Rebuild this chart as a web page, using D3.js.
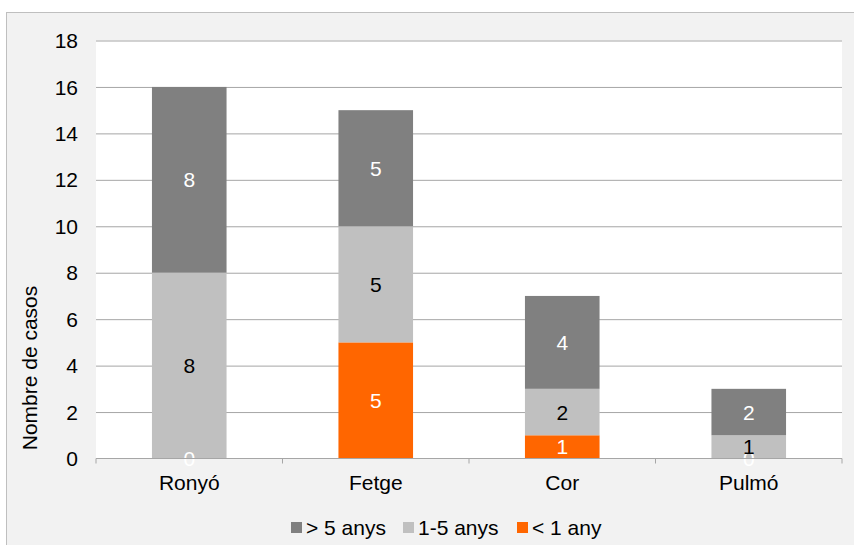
<!DOCTYPE html>
<head>
<meta charset="utf-8">
<script src="https://d3js.org/d3.v7.min.js"></script>
<style>
body { margin: 0; background: #fff; }
svg { display: block; font-family: "Liberation Sans", Arial, sans-serif; }
.grid line { stroke: #a6a6a6; stroke-width: 1; }
.grid path { display: none; }
</style>
</head>
<body>
<div id="chart"></div>
<script>
// Data
let categories = ["Ronyó", "Fetge", "Cor", "Pulmó"];
let series = ["< 1 any", "1-5 anys", "> 5 anys"];
let lessThan1 = [0, 5, 1, 0];
let oneToFive = [8, 5, 2, 1];
let moreThan5 = [8, 5, 4, 2];
let yTicks = [0, 2, 4, 6, 8, 10, 12, 14, 16, 18];
let legendOrder = ["> 5 anys", "1-5 anys", "< 1 any"];

let colors = {"< 1 any": "#ff6600", "1-5 anys": "#c0c0c0", "> 5 anys": "#808080"};
let labelColors = {"< 1 any": "#fff", "1-5 anys": "#000", "> 5 anys": "#fff"};

let W = 854, H = 545, fs = 21;
let margin = {top: 40.5, right: 12, bottom: 86.5, left: 96},
    width = W - margin.left - margin.right,
    height = H - margin.top - margin.bottom;

let svg = d3.select("#chart").append("svg")
    .attr("width", W)
    .attr("height", H);

// outer chart area
svg.append("rect")
    .attr("x", 6.5).attr("y", 12.5)
    .attr("width", 860).attr("height", 560)
    .attr("fill", "#f2f2f2")
    .attr("stroke", "#bfbfbf");

let g = svg.append("g")
    .attr("transform", "translate(" + margin.left + "," + margin.top + ")");

g.append("rect")
    .attr("width", width).attr("height", height)
    .attr("fill", "#fff");

let data = categories.map(function(c, i) {
  return {cat: c, "< 1 any": lessThan1[i], "1-5 anys": oneToFive[i], "> 5 anys": moreThan5[i]};
});

let x = d3.scaleBand().domain(categories).range([0, width]).paddingInner(0.6).paddingOuter(0.3);
let xb = d3.scaleBand().domain(categories).range([0, width]);
let y = d3.scaleLinear().domain([0, 18]).range([height, 0]);

// grid
g.append("g")
    .attr("class", "grid")
    .call(d3.axisLeft(y).tickValues(yTicks.slice(1)).tickSize(-width).tickFormat(""));

// y labels
g.append("g")
  .selectAll("text")
  .data(yTicks)
  .enter().append("text")
    .attr("x", -18)
    .attr("y", function(d) { return y(d); })
    .attr("dy", "0.36em")
    .attr("text-anchor", "end")
    .attr("font-size", fs)
    .text(function(d) { return d; });

let stack = d3.stack().keys(series)(data);

let layer = g.selectAll("g.layer")
  .data(stack)
  .enter().append("g")
    .attr("class", "layer")
    .attr("fill", function(d) { return colors[d.key]; });

layer.selectAll("rect")
  .data(function(d) { return d; })
  .enter().append("rect")
    .attr("x", function(d) { return x(d.data.cat); })
    .attr("y", function(d) { return y(d[1]); })
    .attr("width", x.bandwidth())
    .attr("height", function(d) { return y(d[0]) - y(d[1]); });

// value labels (zero labels only shown where the chart shows them)
stack.forEach(function(s) {
  g.append("g").selectAll("text")
    .data(s.filter(function(d) { return d.data.cat !== "Fetge" && d.data.cat !== "Cor" || d[1] - d[0] > 0; }))
    .enter().append("text")
      .attr("x", function(d) { return x(d.data.cat) + x.bandwidth() / 2; })
      .attr("y", function(d) { return y((d[0] + d[1]) / 2); })
      .attr("dy", "0.36em")
      .attr("text-anchor", "middle")
      .attr("font-size", fs)
      .attr("fill", labelColors[s.key])
      .text(function(d) { return d[1] - d[0]; });
});

// x axis
let xAxis = g.append("g")
    .attr("transform", "translate(0," + height + ")");
xAxis.append("line")
    .attr("x1", 0).attr("x2", width)
    .attr("stroke", "#a6a6a6");
xAxis.selectAll("line.tick")
  .data(categories.concat(["end"]))
  .enter().append("line")
    .attr("class", "tick")
    .attr("x1", function(d, i) { return i < categories.length ? xb(d) : width; })
    .attr("x2", function(d, i) { return i < categories.length ? xb(d) : width; })
    .attr("y1", 0).attr("y2", 5)
    .attr("stroke", "#a6a6a6");
xAxis.selectAll("text")
  .data(categories)
  .enter().append("text")
    .attr("x", function(d) { return xb(d) + xb.bandwidth() / 2; })
    .attr("y", 31.5)
    .attr("text-anchor", "middle")
    .attr("font-size", fs)
    .text(function(d) { return d; });

// y title
svg.append("text")
    .attr("transform", "translate(36.5,368) rotate(-90)")
    .attr("text-anchor", "middle")
    .attr("font-size", fs)
    .text("Nombre de casos");

// legend
let legX = [291, 403, 517];
let legend = svg.selectAll("g.legend")
  .data(legendOrder)
  .enter().append("g")
    .attr("class", "legend")
    .attr("transform", function(d, i) { return "translate(" + legX[i] + ",527.5)"; });
legend.append("rect")
    .attr("x", 0).attr("y", -5.5)
    .attr("width", 11).attr("height", 11)
    .attr("fill", function(d) { return colors[d]; });
legend.append("text")
    .attr("x", 15)
    .attr("y", 0)
    .attr("dy", "0.36em")
    .attr("font-size", fs)
    .text(function(d) { return d; });
</script>
</body>
